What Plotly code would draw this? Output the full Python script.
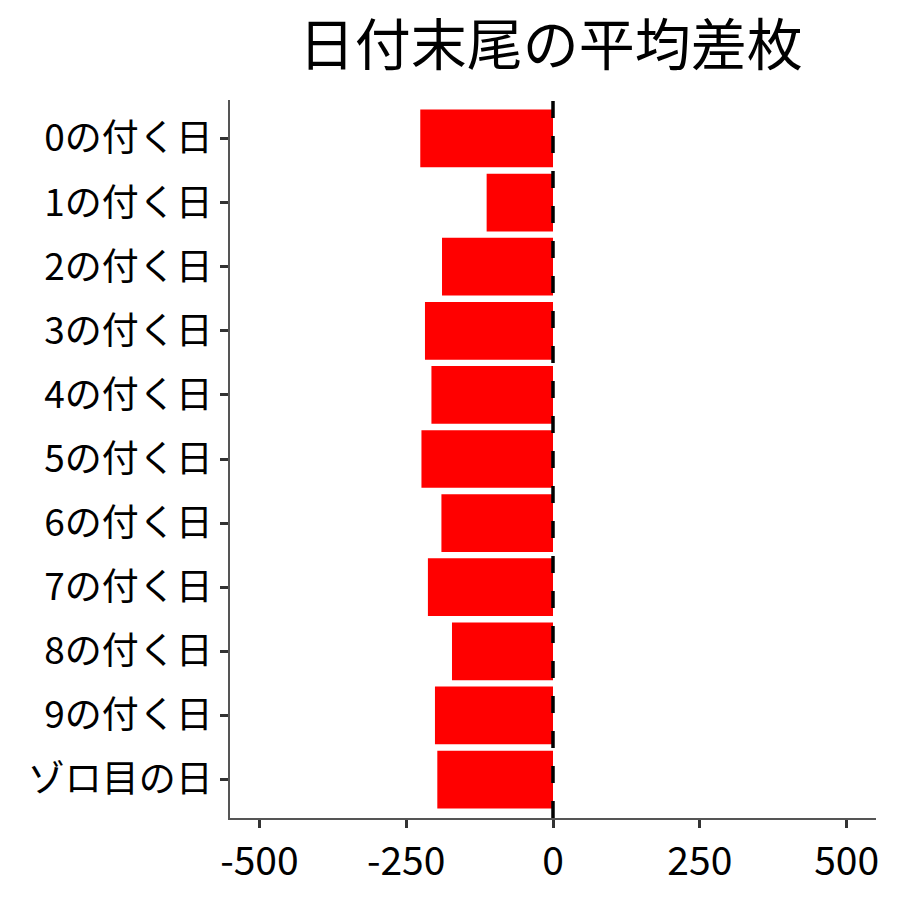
import plotly.graph_objects as go

# average difference per date ending
categories = ["0の付く日", "1の付く日", "2の付く日", "3の付く日", "4の付く日",
              "5の付く日", "6の付く日", "7の付く日", "8の付く日", "9の付く日", "ゾロ目の日"]
avg_diff = [-226, -113, -189, -218, -207, -224, -190, -213, -172, -201, -197]
x_ticks = [-500, -250, 0, 250, 500]

font = "Noto Sans CJK JP"

fig = go.Figure(go.Bar(
    x=avg_diff,
    y=categories,
    orientation="h",
    marker=dict(color="#FF0000", line=dict(width=0)),
    width=0.9,
))

fig.add_vline(x=0, line=dict(color="black", width=3.5, dash="17px,18px"))

# page body adds an 8px offset, so margins are shifted to compensate
fig.update_layout(
    width=900, height=900,
    margin=dict(l=222, r=32, t=92, b=90),
    paper_bgcolor="white", plot_bgcolor="white",
    showlegend=False,
    font=dict(family=font, size=37, color="black"),
    title=dict(text="日付末尾の平均差枚", x=0.603, xanchor="center",
               y=0.958, yanchor="middle",
               font=dict(family=font, size=56, color="black")),
)
fig.update_xaxes(
    range=[-550, 550], tickvals=x_ticks, ticktext=[str(v) for v in x_ticks],
    showgrid=False, zeroline=False, automargin=False,
    showline=True, linecolor="#555555", linewidth=1.5,
    ticks="outside", ticklen=8, tickwidth=3, tickcolor="#333333",
    tickfont=dict(family=font, size=39, color="black"),
)
fig.update_yaxes(
    categoryorder="array", categoryarray=categories, range=[10.6, -0.6],
    showgrid=False, zeroline=False, automargin=False,
    showline=True, linecolor="#555555", linewidth=1.5,
    ticks="outside", ticklen=8, tickwidth=3, tickcolor="#333333",
    tickfont=dict(family=font, size=37, color="black"),
)

fig.write_html("out.html")
